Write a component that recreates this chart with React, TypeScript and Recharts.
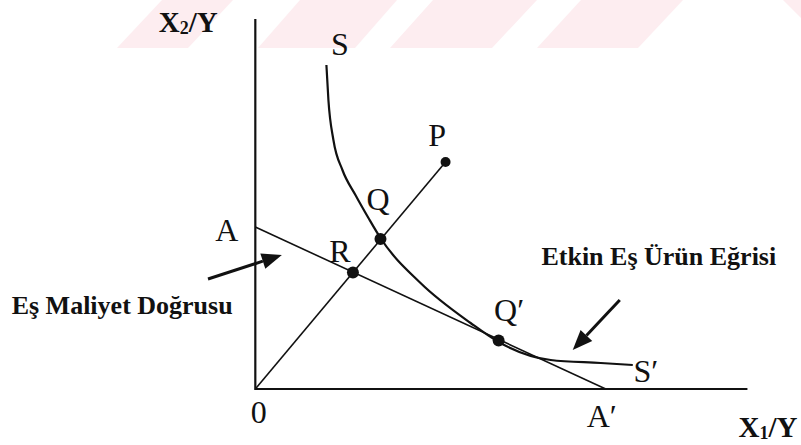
import React from 'react';
import { ComposedChart, Line, XAxis, YAxis, ReferenceDot, ReferenceLine } from 'recharts';

// diagram units: roughly 50px per unit, origin at the axis corner
const axes = [
  { x: 0, y: 7.4 },
  { x: 0, y: 0 },
  { x: 9.83, y: 0 },
];

// efficient isoquant S-S'
const isoquant = [
  { x: 1.42, y: 6.48 },
  { x: 1.46, y: 5.78 },
  { x: 1.56, y: 4.98 },
  { x: 1.74, y: 4.38 },
  { x: 2.0, y: 3.88 },
  { x: 2.26, y: 3.42 },
  { x: 2.5, y: 3.02 },
  { x: 3.3, y: 2.12 },
  { x: 4.3, y: 1.32 },
  { x: 4.86, y: 0.94 },
  { x: 5.9, y: 0.58 },
  { x: 6.9, y: 0.52 },
  { x: 7.54, y: 0.48 },
];

// iso-cost line A-A'
const costLine = [
  { x: 0, y: 3.24 },
  { x: 7.0, y: 0 },
];

// ray from origin through P
const ray = [
  { x: 0, y: 0 },
  { x: 3.8, y: 4.54 },
];

const points = [
  { name: 'P', x: 3.8, y: 4.54, r: 5 },
  { name: 'Q', x: 2.5, y: 3.0, r: 6 },
  { name: 'R', x: 1.95, y: 2.33, r: 6 },
  { name: "Q'", x: 4.86, y: 0.97, r: 6 },
];

const letters = [
  { text: 'S', x: 1.69, y: 6.9 },
  { text: 'P', x: 3.63, y: 5.08 },
  { text: 'Q', x: 2.45, y: 3.8 },
  { text: 'R', x: 1.69, y: 2.76 },
  { text: 'A', x: -0.57, y: 3.18 },
  { text: 'Q\u2032', x: 5.07, y: 1.58 },
  { text: 'S\u2032', x: 7.8, y: 0.36 },
  { text: 'A\u2032', x: 6.92, y: -0.54 },
  { text: '0', x: 0.07, y: -0.46 },
];

const captions = [
  { text: 'Etkin Eş Ürün Eğrisi', x: 8.06, y: 2.66 },
  { text: 'Eş Maliyet Doğrusu', x: -2.66, y: 1.68 },
];

const axisTitles = [
  { main: 'X', sub: '2', rest: '/Y', x: -1.34, y: 7.34 },
  { main: 'X', sub: '1', rest: '/Y', x: 10.24, y: -0.76 },
];

const arrows = [
  { from: { x: -0.945, y: 2.2 }, to: { x: 0.53, y: 2.68 } },
  { from: { x: 7.28, y: 1.78 }, to: { x: 6.34, y: 0.78 } },
];

// pale watermark stripes across the top of the scan
const stripes = [
  '117,48 188,48 233,0 162,0',
  '258,48 355,48 397,0 300,0',
  '390,48 492,48 537,0 433,0',
  '537,48 638,48 683,0 581,0',
  '783,0 801,0 801,18',
];

const SERIF = "'Liberation Serif', 'Times New Roman', serif";
const INK = '#111';
const noDot = () => <g />;

const Arrow = (props: any) => {
  const { x1, y1, x2, y2 } = props;
  const dx = x2 - x1;
  const dy = y2 - y1;
  const len = Math.sqrt(dx * dx + dy * dy);
  const ux = dx / len;
  const uy = dy / len;
  const headL = 20;
  const headW = 8;
  const bx = x2 - ux * headL;
  const by = y2 - uy * headL;
  return (
    <g>
      <line x1={x1} y1={y1} x2={bx} y2={by} stroke={INK} strokeWidth={3} />
      <polygon
        points={`${x2},${y2} ${bx - uy * headW},${by + ux * headW} ${bx + uy * headW},${by - ux * headW}`}
        fill={INK}
      />
    </g>
  );
};

export default function App() {
  return (
    <div style={{ position: 'absolute', left: 0, top: 0, width: 801, height: 445, background: '#fff' }}>
      <svg width={801} height={445} style={{ position: 'absolute', left: 0, top: 0 }}>
        {stripes.map((p, i) => (
          <polygon key={i} points={p} fill="#fdedf0" />
        ))}
      </svg>
      <div style={{ position: 'absolute', left: 0, top: 0 }}>
        <ComposedChart width={801} height={445} margin={{ top: 0, right: 0, bottom: 0, left: 0 }}>
          <XAxis type="number" dataKey="x" domain={[-5.1, 10.9]} allowDataOverflow hide />
          <YAxis type="number" dataKey="y" domain={[-1.12, 7.78]} allowDataOverflow hide />
          <Line data={axes} dataKey="y" type="linear" stroke={INK} strokeWidth={2.2} dot={noDot} activeDot={false} isAnimationActive={false} />
          <Line data={costLine} dataKey="y" type="linear" stroke={INK} strokeWidth={1.6} dot={noDot} activeDot={false} isAnimationActive={false} />
          <Line data={ray} dataKey="y" type="linear" stroke={INK} strokeWidth={1.6} dot={noDot} activeDot={false} isAnimationActive={false} />
          <Line data={isoquant} dataKey="y" type="monotone" stroke={INK} strokeWidth={2.2} dot={noDot} activeDot={false} isAnimationActive={false} />
          {points.map((p) => (
            <ReferenceDot key={p.name} x={p.x} y={p.y} r={p.r} fill={INK} stroke="none" />
          ))}
          {arrows.map((a, i) => (
            <ReferenceLine
              key={i}
              segment={[a.from, a.to]}
              stroke={INK}
              shape={(props: any) => <Arrow {...props} />}
            />
          ))}
          {letters.map((l) => (
            <ReferenceDot
              key={l.text}
              x={l.x}
              y={l.y}
              r={0}
              shape={(props: any) => (
                <text
                  x={props.cx}
                  y={props.cy}
                  textAnchor="middle"
                  dominantBaseline="central"
                  fontFamily={SERIF}
                  fontSize={32}
                  fill={INK}
                >
                  {l.text}
                </text>
              )}
            />
          ))}
          {captions.map((c) => (
            <ReferenceDot
              key={c.text}
              x={c.x}
              y={c.y}
              r={0}
              shape={(props: any) => (
                <text
                  x={props.cx}
                  y={props.cy}
                  textAnchor="middle"
                  dominantBaseline="central"
                  fontFamily={SERIF}
                  fontWeight="bold"
                  fontSize={26}
                  fill={INK}
                >
                  {c.text}
                </text>
              )}
            />
          ))}
          {axisTitles.map((t) => (
            <ReferenceDot
              key={t.sub}
              x={t.x}
              y={t.y}
              r={0}
              shape={(props: any) => (
                <text
                  x={props.cx}
                  y={props.cy}
                  textAnchor="middle"
                  dominantBaseline="central"
                  fontFamily={SERIF}
                  fontWeight="bold"
                  fontSize={29}
                  fill={INK}
                >
                  {t.main}
                  <tspan fontSize={18} dy={6}>{t.sub}</tspan>
                  <tspan dy={-6}>{t.rest}</tspan>
                </text>
              )}
            />
          ))}
        </ComposedChart>
      </div>
    </div>
  );
}
